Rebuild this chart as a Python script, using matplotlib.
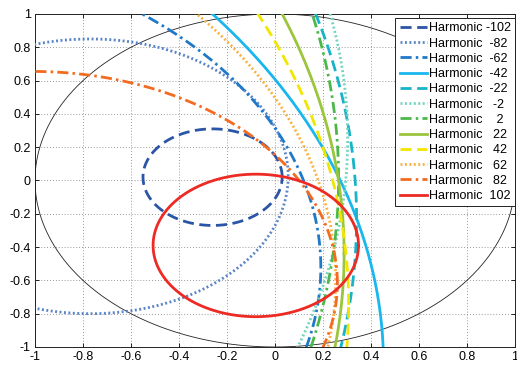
import numpy as np
import matplotlib
matplotlib.use("Agg")
import matplotlib.pyplot as plt

plt.rcParams['font.family'] = ['Liberation Sans', 'DejaVu Sans']

# Harmonic contours: each drawn as a circle (centre re, centre im, radius)
harmonics = [-102, -82, -62, -42, -22, -2, 2, 22, 42, 62, 82, 102]
center_re = [-0.26, -0.77, -1.737, -3.0, -4.195, -3.568, -4.238, -3.858, -3.921, -2.242, -1.011, -0.08]
center_im = [0.02, 0.025, -0.522, -1.1, -0.232, 0.252, 0.011, -0.440, -0.747, -0.598, -0.616, -0.39]
radius = [0.29, 0.825, 1.928, 3.452, 4.535, 3.871, 4.503, 4.146, 4.228, 2.495, 1.271, 0.428]

tick_values = [-1, -0.8, -0.6, -0.4, -0.2, 0, 0.2, 0.4, 0.6, 0.8, 1]
tick_labels = ['-1', '-0.8', '-0.6', '-0.4', '-0.2', '0', '0.2', '0.4', '0.6', '0.8', '1']

colors = ['#2B55A6', '#5A84C8', '#1F78C8', '#1AB6EE', '#17B3C8', '#6FD4C0',
          '#4DB84A', '#9BC53D', '#F2E600', '#FBB040', '#F26B21', '#EE2A24']
styles = ['--', ':', '-.', '-', '--', ':', '-.', '-', '--', ':', '-.', '-']
dashes = {'--': (4.0, 2.0), ':': (0.7, 0.9), '-.': (4.0, 1.5, 0.9, 1.5)}

fig = plt.figure(figsize=(5.17, 3.67), dpi=100)
ax = fig.add_axes([0.0677, 0.0545, 0.9284, 0.9074])
t = np.linspace(0, 2 * np.pi, 1441)
ax.plot(np.cos(t), np.sin(t), color='#222222', lw=0.6, zorder=2)
for h, cx, cy, r, c, s in zip(harmonics, center_re, center_im, radius, colors, styles):
    line, = ax.plot(cx + r * np.cos(t), cy + r * np.sin(t), color=c, lw=2.0,
                    label='Harmonic %4d' % h, zorder=3)
    if s in dashes:
        line.set_dashes(dashes[s])

ax.set_xlim(-1, 1)
ax.set_ylim(-1, 1)
ax.set_xticks(tick_values)
ax.set_xticklabels(tick_labels)
ax.set_yticks(tick_values)
ax.set_yticklabels(tick_labels)
ax.tick_params(direction='in', top=True, right=True, length=3, width=0.6,
               labelsize=9, pad=3)
ax.grid(True, linestyle=(0, (1, 2.5)), color='#777777', lw=0.6)
for sp in ax.spines.values():
    sp.set_linewidth(0.7)
    sp.set_color('#222222')

leg = ax.legend(loc='upper right', bbox_to_anchor=(1.0, 0.988), borderaxespad=0,
                fontsize=9, labelspacing=0.26, handlelength=2.2, handletextpad=0.12,
                borderpad=0.35, fancybox=False, framealpha=1, edgecolor='#222222')
leg.get_frame().set_linewidth(0.7)

fig.savefig('out.png')
